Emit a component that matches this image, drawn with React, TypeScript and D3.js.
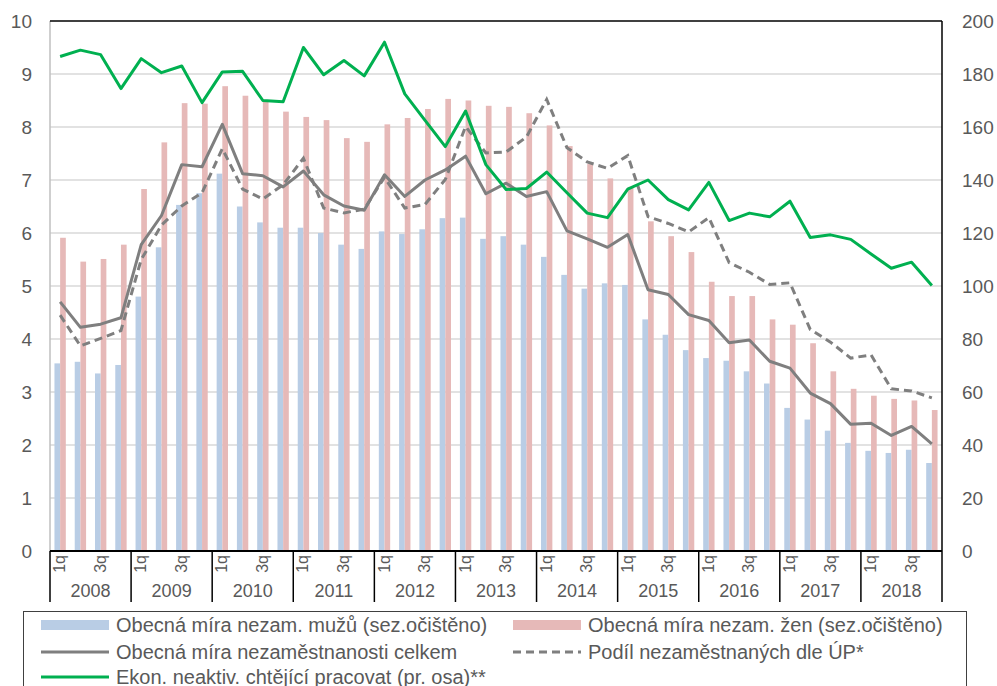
import React from "react";
import * as d3 from "d3";

const years = ["2008","2009","2010","2011","2012","2013","2014","2015","2016","2017","2018"];
const quarterLabels = ["1q", "", "3q", ""];

const men = [3.54,3.57,3.35,3.51, 4.80,5.73,6.53,6.75, 7.12,6.50,6.20,6.10, 6.10,6.00,5.78,5.70,
  6.03,5.98,6.07,6.28, 6.29,5.89,5.94,5.78, 5.55,5.21,4.95,5.05, 5.02,4.37,4.08,3.79,
  3.64,3.59,3.39,3.16, 2.70,2.48,2.27,2.04, 1.89,1.85,1.91,1.66];
const women = [5.91,5.46,5.51,5.78, 6.83,7.71,8.45,8.44, 8.77,8.59,8.50,8.29, 8.19,8.13,7.79,7.72,
  8.05,8.17,8.34,8.53, 8.50,8.40,8.38,8.26, 8.03,7.64,7.30,7.03, 6.87,6.22,5.94,5.64,
  5.08,4.81,4.81,4.37, 4.27,3.92,3.39,3.06, 2.93,2.87,2.84,2.66];
const total = [4.70,4.22,4.28,4.40, 5.78,6.33,7.29,7.25, 8.05,7.12,7.08,6.87, 7.17,6.72,6.51,6.43,
  7.10,6.69,7.00,7.19, 7.45,6.74,6.94,6.69, 6.78,6.04,5.89,5.73, 5.97,4.93,4.84,4.46,
  4.35,3.93,3.98,3.58, 3.45,2.98,2.78,2.39, 2.41,2.18,2.35,2.02];
const upShare = [4.45,3.87,4.01,4.16, 5.50,6.15,6.51,6.76, 7.59,6.83,6.64,6.91, 7.41,6.47,6.38,6.45,
  7.05,6.47,6.54,7.01, 8.01,7.51,7.53,7.81, 8.52,7.61,7.34,7.22, 7.46,6.31,6.18,6.02,
  6.29,5.44,5.26,5.03, 5.06,4.18,3.94,3.64, 3.70,3.06,3.02,2.89];
const inactive = [186.6,189.0,187.3,174.5, 185.8,180.5,183.0,169.2, 180.8,181.0,170.0,169.5,
  190.0,179.7,185.1,179.3, 192.0,172.5,162.5,152.6, 166.0,145.8,136.4,136.8,
  143.0,135.2,127.5,125.8, 136.6,140.0,132.6,128.7, 139.1,124.7,127.5,126.1,
  132.0,118.3,119.3,117.6, 112.1,106.7,109.0,100.2];

const leftTicks = [0,1,2,3,4,5,6,7,8,9,10];
const rightTicks = [0,20,40,60,80,100,120,140,160,180,200];

const legendItems = [
  { label: "Obecná míra nezam. mužů (sez.očištěno)", kind: "bar", color: "#B9CDE5" },
  { label: "Obecná míra nezam. žen (sez.očištěno)", kind: "bar", color: "#E6B9B8" },
  { label: "Obecná míra nezaměstnanosti celkem", kind: "line", color: "#7F7F7F" },
  { label: "Podíl nezaměstnaných dle ÚP*", kind: "dash", color: "#7F7F7F" },
  { label: "Ekon. neaktiv. chtějící pracovat (pr. osa)**", kind: "line", color: "#00B050" },
];

const FONT = "'Liberation Sans', Arial, sans-serif";
const TEXT = "#595959";

export default function App() {
  const left = 50, right = 942, top = 21, bottom = 551;
  const n = men.length;
  const idx = d3.range(n);
  const x = d3.scaleBand<number>().domain(idx).range([left, right]).padding(0);
  const bw = x.bandwidth();
  const cx = (i: number) => (x(i) as number) + bw / 2;
  const yL = d3.scaleLinear().domain([0, 10]).range([bottom, top]);
  const yR = d3.scaleLinear().domain([0, 200]).range([bottom, top]);
  const barW = bw * 0.28;

  const lineL = d3.line<number>().x((_, i) => cx(i)).y((d) => yL(d));
  const lineR = d3.line<number>().x((_, i) => cx(i)).y((d) => yR(d));

  const yearW = bw * 4;
  const legendRows = [
    [legendItems[0], legendItems[1]],
    [legendItems[2], legendItems[3]],
    [legendItems[4]],
  ];
  const rowY = [625, 652, 677];
  const colX = [41, 513];

  return (
    <svg width={997} height={686} style={{ position: "fixed", left: 0, top: 0, background: "#fff" }}
      fontFamily={FONT}>
      <rect x={0} y={0} width={997} height={686} fill="#fff" />
      {/* gridlines */}
      {leftTicks.filter((t) => t > 0 && t < 10).map((t) => (
        <line key={"g" + t} x1={left} x2={right} y1={yL(t)} y2={yL(t)} stroke="#D9D9D9" strokeWidth={1.5} />
      ))}
      {/* bars */}
      {men.map((v, i) => (
        <rect key={"m" + i} x={cx(i) - barW} y={yL(v)} width={barW} height={bottom - yL(v)} fill="#B9CDE5" />
      ))}
      {women.map((v, i) => (
        <rect key={"w" + i} x={cx(i)} y={yL(v)} width={barW} height={bottom - yL(v)} fill="#E6B9B8" />
      ))}
      {/* lines */}
      <path d={lineL(total) as string} fill="none" stroke="#7F7F7F" strokeWidth={3} strokeLinejoin="round" />
      <path d={lineL(upShare) as string} fill="none" stroke="#7F7F7F" strokeWidth={3} strokeDasharray="8,5" />
      <path d={lineR(inactive) as string} fill="none" stroke="#00B050" strokeWidth={3} strokeLinejoin="round" />
      {/* frame */}
      <line x1={left} x2={left} y1={top} y2={bottom} stroke="#BFBFBF" strokeWidth={1.5} />
      <line x1={left} x2={right} y1={top} y2={top} stroke="#000" strokeWidth={1.5} />
      <line x1={right} x2={right} y1={top} y2={bottom} stroke="#000" strokeWidth={1.5} />
      <line x1={left} x2={right} y1={bottom} y2={bottom} stroke="#000" strokeWidth={2} />
      {/* left ticks */}
      {leftTicks.map((t) => (
        <text key={"l" + t} x={32} y={yL(t)} dy="0.35em" textAnchor="end" fontSize={19} fill={TEXT}>{t}</text>
      ))}
      {rightTicks.map((t) => (
        <text key={"r" + t} x={962} y={yR(t)} dy="0.35em" textAnchor="start" fontSize={19} fill={TEXT}>{t}</text>
      ))}
      {/* x axis quarter labels */}
      {idx.map((i) => {
        const lab = quarterLabels[i % 4];
        if (!lab) return null;
        return (
          <text key={"q" + i} transform={`translate(${cx(i) + 5},555) rotate(-90)`} textAnchor="end"
            fontSize={16} fill={TEXT}>{lab}</text>
        );
      })}
      {/* year separators and labels */}
      {d3.range(years.length + 1).map((k) => (
        <line key={"s" + k} x1={left + k * yearW} x2={left + k * yearW} y1={bottom} y2={602} stroke="#000" strokeWidth={1.5} />
      ))}
      {years.map((yname, k) => (
        <text key={"y" + k} x={left + k * yearW + yearW / 2} y={591} dy="0.35em" textAnchor="middle" fontSize={18} fill={TEXT}>{yname}</text>
      ))}
      {/* legend */}
      <rect x={23.5} y={611.5} width={943} height={90} fill="#fff" stroke="#404040" strokeWidth={1} />
      {legendRows.map((row, r) =>
        row.map((it, c) => {
          const sx = colX[c];
          const yy = rowY[r];
          return (
            <g key={"lg" + r + c}>
              {it.kind === "bar" && <rect x={sx} y={yy - 5} width={68} height={10} fill={it.color} />}
              {it.kind === "line" && <line x1={sx} x2={sx + 68} y1={yy} y2={yy} stroke={it.color} strokeWidth={3} />}
              {it.kind === "dash" && <line x1={sx} x2={sx + 68} y1={yy} y2={yy} stroke={it.color} strokeWidth={3} strokeDasharray="8,5" />}
              <text x={sx + 75} y={yy} dy="0.35em" fontSize={20} fill={TEXT}>{it.label}</text>
            </g>
          );
        })
      )}
    </svg>
  );
}
